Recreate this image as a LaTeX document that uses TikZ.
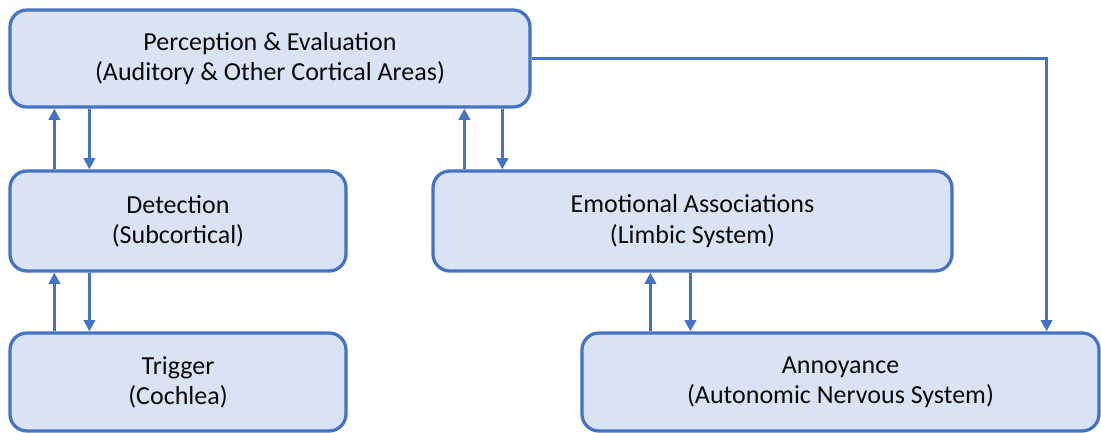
\documentclass[tikz,border=0pt]{standalone}
\usepackage{fontspec}
\setmainfont{Carlito}
\usepackage{tikz}
\usetikzlibrary{arrows.meta, positioning, calc}
\usepackage{xcolor}
\definecolor{boxblue}{RGB}{68,114,196}
\definecolor{boxfill}{RGB}{218,227,243}
\definecolor{textgray}{RGB}{10,10,10}

\tikzset{
    stage/.style={draw=boxblue, fill=boxfill, line width=2.3pt, rounded corners=12pt,
        align=center, text=textgray, font=\fontsize{18.5}{21.5}\selectfont, inner sep=0pt},
    link/.style={draw=boxblue, line width=2.1pt, -{Triangle[length=8pt, width=8pt]}}
}

\begin{document}
\begin{tikzpicture}
    \useasboundingbox (0,0) rectangle (27.525,10.825);

    % --- Boites ---
    \node[stage, minimum width=13cm, minimum height=2.425cm] (perc) at (6.75,9.3625)
        {Perception \& Evaluation\\(Auditory \& Other Cortical Areas)};
    \node[stage, minimum width=8.4cm, minimum height=2.5cm] (det) at (4.45,5.3)
        {Detection\\(Subcortical)};
    \node[stage, minimum width=12.975cm, minimum height=2.5cm] (emo) at (17.3125,5.3)
        {Emotional Associations\\(Limbic System)};
    \node[stage, minimum width=8.4cm, minimum height=2.45cm] (trig) at (4.45,1.275)
        {Trigger\\(Cochlea)};
    \node[stage, minimum width=12.925cm, minimum height=2.45cm] (ann) at (21.0125,1.275)
        {Annoyance\\(Autonomic Nervous System)};

    % --- Points de depart des fleches ---
    \coordinate (d1) at ([xshift=1.15cm]det.north west);
    \coordinate (d2) at ([xshift=2.025cm]det.north west);
    \coordinate (e1) at ([xshift=0.825cm]emo.north west);
    \coordinate (e2) at ([xshift=1.775cm]emo.north west);
    \coordinate (t1) at ([xshift=1.15cm]trig.north west);
    \coordinate (t2) at ([xshift=2.025cm]trig.north west);
    \coordinate (a1) at ([xshift=1.75cm]ann.north west);
    \coordinate (a2) at ([xshift=2.75cm]ann.north west);
    \coordinate (a3) at ([xshift=-1.35cm]ann.north east);

    % Detection <-> Perception
    \draw[link] (d1) -- (d1 |- perc.south);
    \draw[link] (d2 |- perc.south) -- (d2);

    % Emotions <-> Perception
    \draw[link] (e1) -- (e1 |- perc.south);
    \draw[link] (e2 |- perc.south) -- (e2);

    % Trigger <-> Detection
    \draw[link] (t1) -- (t1 |- det.south);
    \draw[link] (t2 |- det.south) -- (t2);

    % Annoyance <-> Emotions
    \draw[link] (a1) -- (a1 |- emo.south);
    \draw[link] (a2 |- emo.south) -- (a2);

    % Perception -> Annoyance
    \draw[link] (perc.east) -| (a3);
\end{tikzpicture}
\end{document}
